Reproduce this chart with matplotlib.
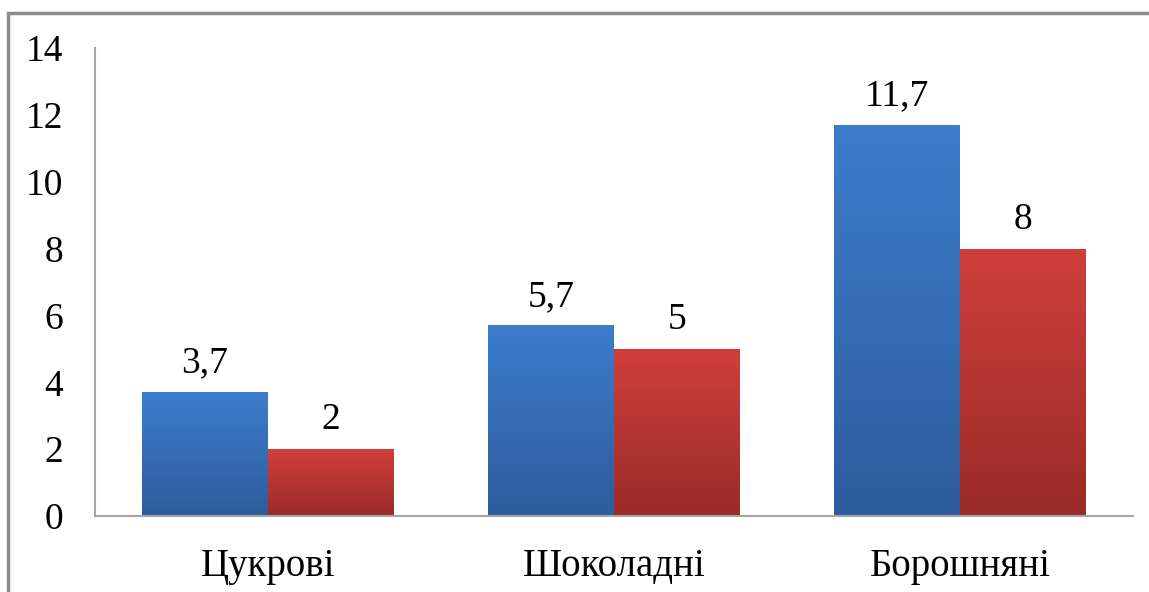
import numpy as np
import matplotlib.pyplot as plt
from matplotlib.patches import Rectangle

categories = ['Цукрові', 'Шоколадні', 'Борошняні']
series_a = [3.7, 5.7, 11.7]
series_b = [2, 5, 8]
y_ticks = [0, 2, 4, 6, 8, 10, 12, 14]

plt.rcParams['font.family'] = ['Liberation Serif', 'DejaVu Serif']

fig = plt.figure(figsize=(11.49, 5.92), dpi=100)
ax = fig.add_axes([95 / 1149, 1 - 516 / 592, (1133 - 95) / 1149, (516 - 48) / 592])

# outer frame (only top and left visible in the crop)
fig.add_artist(Rectangle((8 / 1149, -0.1), 1.2, 1 - 13 / 592 + 0.1, transform=fig.transFigure,
                         fill=False, edgecolor='#8c8c8c', linewidth=2.5))


def gradient_bar(x, h, w, top, bottom):
    bar = ax.bar(x, h, w, color='none', edgecolor='none')[0]
    grad = np.linspace(0, 1, 256).reshape(-1, 1)
    c1 = np.array(plt.matplotlib.colors.to_rgb(top))
    c2 = np.array(plt.matplotlib.colors.to_rgb(bottom))
    img = c1 * (1 - grad[..., None]) + c2 * grad[..., None]
    im = ax.imshow(img, extent=[x - w / 2, x + w / 2, 0, h], aspect='auto',
                   origin='upper', zorder=2)
    im.set_clip_path(bar)
    return bar


def fmt(v):
    s = ('%g' % v).replace('.', ',')
    return s


x = np.arange(len(categories))
w = 0.364
for i in range(len(categories)):
    gradient_bar(x[i] - w / 2, series_a[i], w, '#3d7dcc', '#2d5c9c')
    gradient_bar(x[i] + w / 2, series_b[i], w, '#cf3f3b', '#9a2b28')
    ax.text(x[i] - w / 2, series_a[i] + 0.35, fmt(series_a[i]), ha='center', va='bottom', fontsize=27)
    ax.text(x[i] + w / 2, series_b[i] + 0.35, fmt(series_b[i]), ha='center', va='bottom', fontsize=27)

ax.set_xlim(-0.5, 2.5)
ax.set_ylim(0, 14)
ax.set_yticks(y_ticks)
ax.set_yticklabels([str(t) for t in y_ticks], fontsize=27)
ax.set_xticks(x)
ax.set_xticklabels(categories, fontsize=28)
ax.tick_params(axis='both', length=0)
ax.tick_params(axis='y', pad=23)
ax.tick_params(axis='x', pad=23)
for s in ['top', 'right']:
    ax.spines[s].set_visible(False)
for s in ['left', 'bottom']:
    ax.spines[s].set_color('#a6a6a6')
    ax.spines[s].set_linewidth(1.5)

fig.savefig('out.png', dpi=100)
